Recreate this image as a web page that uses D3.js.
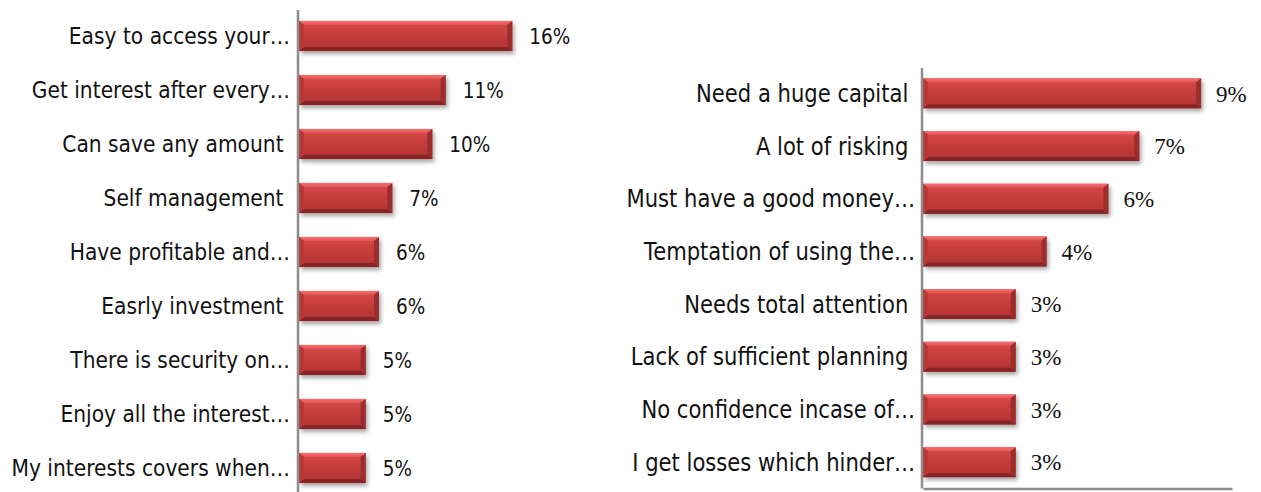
<!DOCTYPE html>
<html>
<head>
<meta charset="utf-8">
<script src="https://cdn.jsdelivr.net/npm/d3@7"></script>
<style>
  html, body { margin: 0; padding: 0; background: #fff; }
  svg { display: block; }
  text { white-space: pre; }
</style>
</head>
<body>
<svg id="chart" width="1261" height="492"></svg>
<script>
// Advantages (left panel)
const advCategories = [
  "Easy to access your\u2026",
  "Get interest after every\u2026",
  "Can save any amount ",
  "Self management ",
  "Have profitable and\u2026",
  "Easrly investment ",
  "There is security on\u2026",
  "Enjoy all the interest\u2026",
  "My interests covers when\u2026"
];
const advValues = [16, 11, 10, 7, 6, 6, 5, 5, 5];

// Disadvantages (right panel)
const disCategories = [
  "Need a huge capital ",
  "A lot of risking ",
  "Must have a good money\u2026",
  "Temptation of using the\u2026",
  "Needs total attention ",
  "Lack of sufficient planning ",
  "No confidence incase of\u2026",
  "I get losses which hinder\u2026"
];
const disValues = [9, 7, 6, 4, 3, 3, 3, 3];

const svg = d3.select("#chart");
const defs = svg.append("defs");

// Bar body gradient
const grad = defs.append("linearGradient")
  .attr("id", "barFill").attr("x1", 0).attr("y1", 0).attr("x2", 0).attr("y2", 1);
[["0%", "#d84a4a"], ["45%", "#c63d3d"], ["100%", "#b03333"]]
  .forEach(([o, c]) => grad.append("stop").attr("offset", o).attr("stop-color", c));

const topGrad = defs.append("linearGradient")
  .attr("id", "barTop").attr("x1", 0).attr("y1", 0).attr("x2", 0).attr("y2", 1);
[["0%", "#f77070"], ["100%", "#e25454"]]
  .forEach(([o, c]) => topGrad.append("stop").attr("offset", o).attr("stop-color", c));

// Soft drop shadow under each bar
const shadow = defs.append("filter").attr("id", "shadow")
  .attr("x", "-10%").attr("y", "-30%").attr("width", "130%").attr("height", "190%");
shadow.append("feDropShadow")
  .attr("dx", 2).attr("dy", 3).attr("stdDeviation", 2)
  .attr("flood-color", "#000").attr("flood-opacity", 0.35);

function drawBevelBars(g, data, x, y) {
  const b = 5, bv = 4;
  const bars = g.selectAll("g.bar").data(data).join("g").attr("class", "bar");
  bars.each(function(d) {
    const s = d3.select(this);
    const x0 = x(0), x1 = x(d.value);
    const y0 = y(d.cat), h = y.bandwidth(), y1 = y0 + h;
    s.append("rect")
      .attr("x", x0).attr("y", y0).attr("width", x1 - x0).attr("height", h)
      .attr("fill", "url(#barFill)").attr("filter", "url(#shadow)");
    const poly = (pts, fill) => s.append("polygon")
      .attr("points", pts.map(p => p.join(",")).join(" ")).attr("fill", fill);
    // top bevel
    poly([[x0, y0], [x1, y0], [x1 - b, y0 + bv], [x0 + b, y0 + bv]], "url(#barTop)");
    // bottom bevel
    poly([[x0, y1], [x1, y1], [x1 - b, y1 - bv], [x0 + b, y1 - bv]], "#862525");
    // left bevel
    poly([[x0, y0], [x0 + b, y0 + bv], [x0 + b, y1 - bv], [x0, y1]], "#b83737");
    // right bevel
    poly([[x1, y0], [x1 - b, y0 + bv], [x1 - b, y1 - bv], [x1, y1]], "#9c2d2d");
  });
}

function drawPanel(opts) {
  const data = opts.cats.map((c, i) => ({ cat: c, value: opts.vals[i] }));
  const g = svg.append("g");
  const x = d3.scaleLinear().domain([0, opts.max]).range([opts.left, opts.right]);
  const y = d3.scaleBand().domain(opts.cats).range([opts.top, opts.bottom])
    .paddingInner(opts.pad).paddingOuter(opts.pad / 2);

  drawBevelBars(g, data, x, y);

  // value axis (bottom)
  const xAxis = g.append("g")
    .attr("transform", `translate(0,${opts.bottom})`)
    .call(d3.axisBottom(x).ticks(0).tickSizeOuter(0));
  xAxis.select(".domain").attr("stroke", "#8c8c8c").attr("stroke-width", 2.5);
  xAxis.selectAll(".tick").remove();

  // category axis (left)
  const yAxis = g.append("g")
    .attr("transform", `translate(${opts.left - 1},0)`)
    .call(d3.axisLeft(y).tickSize(0).tickSizeOuter(0).tickFormat(""));
  yAxis.select(".domain").attr("stroke", "#8c8c8c").attr("stroke-width", 2.5);
  yAxis.selectAll(".tick").remove();
  yAxis.select(".domain").attr("d", `M0,${opts.top + 1}V${opts.bottom}`);

  // category labels
  g.selectAll("text.cat").data(data).join("text")
    .attr("class", "cat")
    .attr("transform", d => `translate(${opts.left - opts.labelGap},${y(d.cat) + y.bandwidth() / 2}) scale(${opts.catScale},1)`)
    .attr("text-anchor", "end")
    .attr("dy", "0.36em")
    .attr("font-family", "'DejaVu Sans', sans-serif")
    .attr("font-size", opts.catSize)
    .attr("fill", "#111")
    .text(d => d.cat);

  // value labels
  g.selectAll("text.val").data(data).join("text")
    .attr("class", "val")
    .attr("transform", d => `translate(${x(d.value) + opts.valGap},${y(d.cat) + y.bandwidth() / 2}) scale(${opts.valScale},1)`)
    .attr("dy", "0.36em")
    .attr("font-family", opts.valFont)
    .attr("font-size", opts.valSize)
    .attr("fill", "#111")
    .text(d => d.value + "%");
}

drawPanel({
  cats: advCategories, vals: advValues, max: 18,
  left: 299, right: 539, top: 9, bottom: 495, pad: 0.44,
  labelGap: 9, catSize: 23, catScale: 0.88,
  valGap: 17, valFont: "'DejaVu Sans', sans-serif", valSize: 22, valScale: 0.84
});

drawPanel({
  cats: disCategories, vals: disValues, max: 10,
  left: 923, right: 1232, top: 67, bottom: 488.5, pad: 0.43,
  labelGap: 8, catSize: 24, catScale: 0.88,
  valGap: 15, valFont: "'Liberation Serif', 'Times New Roman', serif", valSize: 23, valScale: 1
});
</script>
</body>
</html>
